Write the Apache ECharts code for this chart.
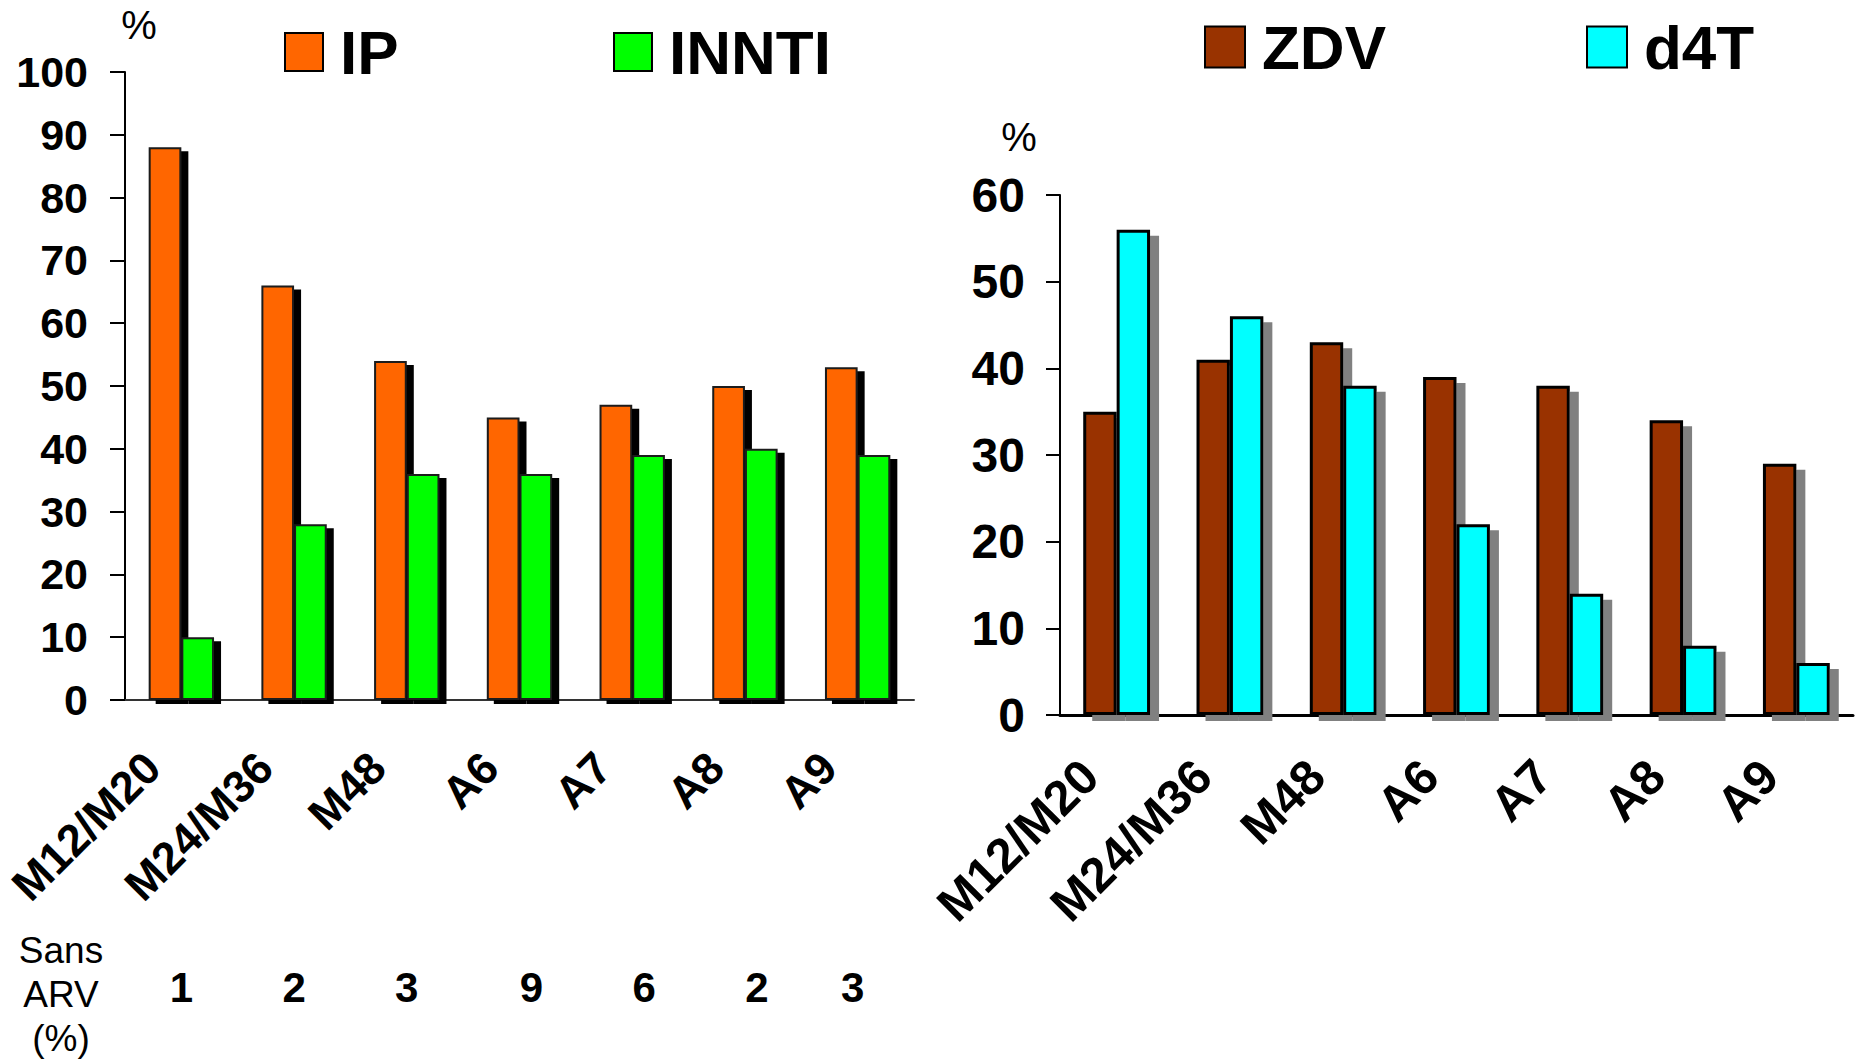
<!DOCTYPE html>
<html>
<head>
<meta charset="utf-8">
<script src="https://cdn.jsdelivr.net/npm/echarts@6/dist/echarts.min.js"></script>
<style>
html,body{margin:0;padding:0;background:#fff;}
#c{width:1856px;height:1061px;}
</style>
</head>
<body>
<div id="c"></div>
<script>
var categories = ['M12/M20', 'M24/M36', 'M48', 'A6', 'A7', 'A8', 'A9'];
var ipValues = [88, 66, 54, 45, 47, 50, 53];
var inntiValues = [10, 28, 36, 36, 39, 40, 39];
var zdvValues = [35, 41, 43, 39, 38, 34, 29];
var d4tValues = [56, 46, 38, 22, 14, 8, 6];
var sansArv = ['1', '2', '3', '9', '6', '2', '3'];
var sansArvTitle = 'Sans\nARV\n(%)';
// small horizontal nudges of the "Sans ARV" labels (label styling only)
var arvLabelStyle = ['c', 'c', 'c', 'r', 'r', 'r', 'l'];

var FONT = '"Liberation Sans", Arial, sans-serif';
var chart = echarts.init(document.getElementById('c'), null, {renderer: 'svg'});

function legendItem(name, left, top, w, h) {
  return {
    data: [name], left: left, top: top, orient: 'horizontal',
    itemWidth: w, itemHeight: h, selectedMode: false, padding: 0,
    icon: 'rect',
    itemStyle: {borderColor: '#000', borderWidth: 2, shadowBlur: 0, shadowOffsetX: 0, shadowOffsetY: 0, shadowColor: 'rgba(0,0,0,0)'},
    textStyle: {fontFamily: FONT, fontSize: 62, fontWeight: 'bold', color: '#000', lineHeight: 62, padding: [0, 0, 0, 12]}
  };
}

var arvFont = {fontFamily: FONT, fontSize: 42, fontWeight: 'bold', color: '#000'};

var option = {
  backgroundColor: '#fff',
  animation: false,
  legend: [
    legendItem('IP', 284, 21, 38, 38),
    legendItem('INNTI', 613, 21, 38, 38),
    legendItem('ZDV', 1204, 16, 40, 41),
    legendItem('d4T', 1586, 16, 40, 41)
  ],
  grid: [
    {left: 125, top: 72, width: 789, height: 628},
    {left: 1060, top: 195, width: 793, height: 520}
  ],
  xAxis: [
    {
      type: 'category', gridIndex: 0, data: categories,
      axisLine: {show: true, lineStyle: {color: '#333', width: 2}},
      axisTick: {show: false},
      axisLabel: {interval: 0, rotate: 45, margin: 31, padding: [0, 41, 0, 0],
        fontFamily: FONT, fontSize: 45, fontWeight: 'bold', color: '#000'},
      splitLine: {show: false}
    },
    {
      type: 'category', gridIndex: 0, data: sansArv, position: 'bottom',
      axisLine: {show: false}, axisTick: {show: false},
      axisLabel: {interval: 0, margin: 287, verticalAlign: 'middle',
        formatter: function (v, i) { return '{' + arvLabelStyle[i] + '|' + v + '}'; },
        rich: {
          c: arvFont,
          r: Object.assign({padding: [0, 0, 0, 24]}, arvFont),
          l: Object.assign({padding: [0, 10, 0, 0]}, arvFont)
        },
        fontFamily: FONT, fontSize: 42, fontWeight: 'bold', color: '#000'},
      splitLine: {show: false}
    },
    {
      type: 'category', gridIndex: 1, data: categories,
      axisLine: {show: true, lineStyle: {color: '#000', width: 3}},
      axisTick: {show: false},
      axisLabel: {interval: 0, rotate: 45, margin: 26, padding: [0, 38, 0, 0],
        fontFamily: FONT, fontSize: 49, fontWeight: 'bold', color: '#000'},
      splitLine: {show: false}
    }
  ],
  yAxis: [
    {
      type: 'value', gridIndex: 0, min: 0, max: 100, interval: 10,
      name: '%', nameLocation: 'end', nameGap: 47,
      nameTextStyle: {fontFamily: FONT, fontSize: 40, color: '#000', verticalAlign: 'middle', align: 'center', padding: [0, 0, 0, 28]},
      axisLine: {show: true, lineStyle: {color: '#000', width: 2}},
      axisTick: {show: true, inside: false, length: 15, lineStyle: {color: '#000', width: 2}},
      axisLabel: {margin: 37, fontFamily: FONT, fontSize: 43, fontWeight: 'bold', color: '#000'},
      splitLine: {show: false}
    },
    {
      type: 'value', gridIndex: 1, min: 0, max: 60, interval: 10,
      name: '%', nameLocation: 'end', nameGap: 58,
      nameTextStyle: {fontFamily: FONT, fontSize: 40, color: '#000', verticalAlign: 'middle', align: 'center', padding: [0, 82, 0, 0]},
      axisLine: {show: true, lineStyle: {color: '#000', width: 2}},
      axisTick: {show: true, inside: false, length: 14, lineStyle: {color: '#000', width: 2}},
      axisLabel: {margin: 35, fontFamily: FONT, fontSize: 48, fontWeight: 'bold', color: '#000'},
      splitLine: {show: false}
    }
  ],
  graphic: [
    {type: 'text', left: 18, top: 928, style: {text: sansArvTitle, fontFamily: FONT, fontSize: 37, lineHeight: 44, fill: '#000', textAlign: 'center', width: 86}}
  ],
  series: [
    {name: 'IP', type: 'bar', xAxisIndex: 0, yAxisIndex: 0, data: ipValues, clip: false,
      barGap: '0%', barCategoryGap: '42%',
      itemStyle: {color: '#FF6600', borderColor: '#1a1a1a', borderWidth: 2,
        shadowColor: '#000', shadowBlur: 0, shadowOffsetX: 7, shadowOffsetY: 4}},
    {name: 'INNTI', type: 'bar', xAxisIndex: 0, yAxisIndex: 0, data: inntiValues, clip: false,
      barGap: '0%', barCategoryGap: '42%',
      itemStyle: {color: '#00FF00', borderColor: '#1a1a1a', borderWidth: 2,
        shadowColor: '#000', shadowBlur: 0, shadowOffsetX: 7, shadowOffsetY: 4}},
    {name: 'ZDV', type: 'bar', xAxisIndex: 2, yAxisIndex: 1, data: zdvValues, clip: false,
      barGap: '0%', barCategoryGap: '41%',
      itemStyle: {color: '#993300', borderColor: '#000', borderWidth: 3,
        shadowColor: '#808080', shadowBlur: 0, shadowOffsetX: 9, shadowOffsetY: 6}},
    {name: 'd4T', type: 'bar', xAxisIndex: 2, yAxisIndex: 1, data: d4tValues, clip: false,
      barGap: '0%', barCategoryGap: '41%',
      itemStyle: {color: '#00FFFF', borderColor: '#000', borderWidth: 3,
        shadowColor: '#808080', shadowBlur: 0, shadowOffsetX: 9, shadowOffsetY: 6}}
  ]
};
chart.setOption(option);
</script>
</body>
</html>
